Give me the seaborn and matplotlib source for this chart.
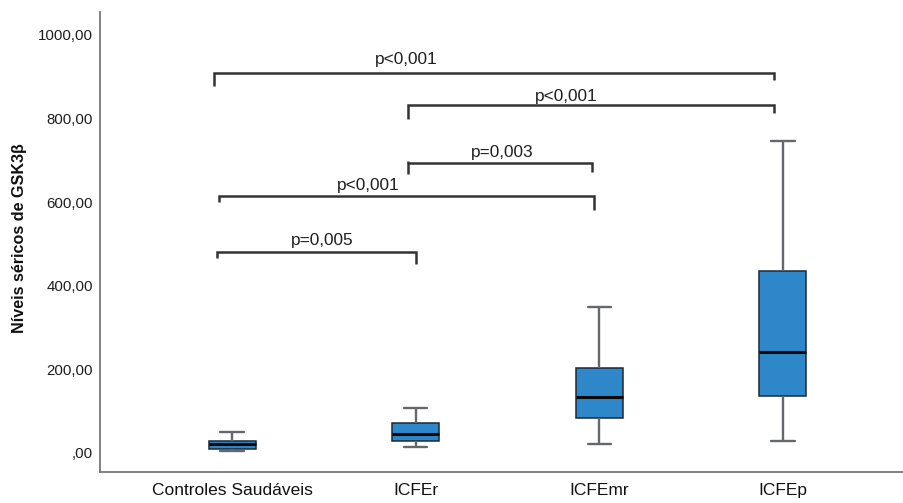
import matplotlib
matplotlib.use("Agg")
import matplotlib.pyplot as plt
import seaborn as sns
import pandas as pd
from matplotlib.ticker import FuncFormatter, FixedLocator

# ---- data ----
groups = ["Controles Saudáveis", "ICFEr", "ICFEmr", "ICFEp"]
controles = [5, 10, 21, 29, 50]      # min, Q1, median, Q3, max
icfer = [15, 28, 45, 72, 108]
icfemr = [22, 83, 133, 203, 349]
icfep = [29, 136, 241, 435, 747]

y_ticks = [0, 200, 400, 600, 800, 1000]
y_label = "Níveis séricos de GSK3β"

# significance brackets
br_labels = ["p<0,001", "p<0,001", "p=0,003", "p<0,001", "p=0,005"]
br_left = [-0.10, 0.96, 0.96, -0.07, -0.08]
br_right = [2.95, 2.95, 1.96, 1.97, 1.00]
br_y = [910, 832, 693, 615, 482]
br_left_top = [910, 832, 698, 615, 482]
br_left_bot = [878, 799, 667, 600, 466]
br_right_bot = [892, 814, 672, 581, 452]
br_text_x = [0.95, 1.82, 1.47, 0.74, 0.49]
br_text_y = [930, 841, 708, 629, 498]

df = pd.DataFrame({
    "grupo": sum([[g] * 5 for g in groups], []),
    "valor": controles + icfer + icfemr + icfep,
})

sns.set_theme(style="white")
plt.rcParams["font.family"] = ["Liberation Sans", "DejaVu Sans"]

fig = plt.figure(figsize=(9.04, 5.03), dpi=100)
ax = fig.add_axes([100 / 904, 31 / 503, 804 / 904, 460 / 503])

sns.boxplot(
    data=df, x="grupo", y="valor", order=groups, ax=ax,
    color="#2e87c9", saturation=1, width=0.256, whis=(0, 100),
    linecolor="#5f6266", linewidth=1.8,
    boxprops={"edgecolor": "#1c2833", "linewidth": 1.1},
    medianprops={"color": "#0a0a0a", "linewidth": 2.2},
    whiskerprops={"color": "#64676b", "linewidth": 1.7},
    capprops={"color": "#64676b", "linewidth": 1.7},
)

ax.set_xlim(-0.72, 3.66)
ax.set_ylim(-45.5, 1055)
ax.yaxis.set_major_locator(FixedLocator(y_ticks))
ax.yaxis.set_major_formatter(FuncFormatter(
    lambda v, p: (",00" if v == 0 else f"{int(v)},00")))
ax.set_xlabel("")
ax.set_ylabel("")
fig.text(20 / 904, 1 - 238 / 503, y_label, rotation=90, ha="center",
         va="center", fontsize=11.6, fontweight="bold", color="#111111")

for lab in ax.get_yticklabels():
    lab.set_fontsize(10.8)
    lab.set_color("#1e1e1e")
for lab in ax.get_xticklabels():
    lab.set_fontsize(12.5)
    lab.set_color("#111111")

ax.tick_params(axis="both", length=0)
ax.tick_params(axis="y", pad=5)
ax.tick_params(axis="x", pad=8)

for s in ["top", "right"]:
    ax.spines[s].set_visible(False)
for s in ["left", "bottom"]:
    ax.spines[s].set_color("#777777")
    ax.spines[s].set_linewidth(1.3)

for i in range(len(br_labels)):
    ax.plot([br_left[i], br_left[i], br_right[i], br_right[i]],
            [br_left_bot[i], br_y[i], br_y[i], br_right_bot[i]],
            color="#333333", lw=1.8, solid_capstyle="butt",
            solid_joinstyle="miter")
    if br_left_top[i] > br_y[i]:
        ax.plot([br_left[i], br_left[i]], [br_y[i], br_left_top[i]],
                color="#333333", lw=1.8, solid_capstyle="butt")
    ax.text(br_text_x[i], br_text_y[i], br_labels[i], ha="center",
            va="baseline", fontsize=12.4, color="#1e1e1e")

fig.savefig("out.png", dpi=100)
